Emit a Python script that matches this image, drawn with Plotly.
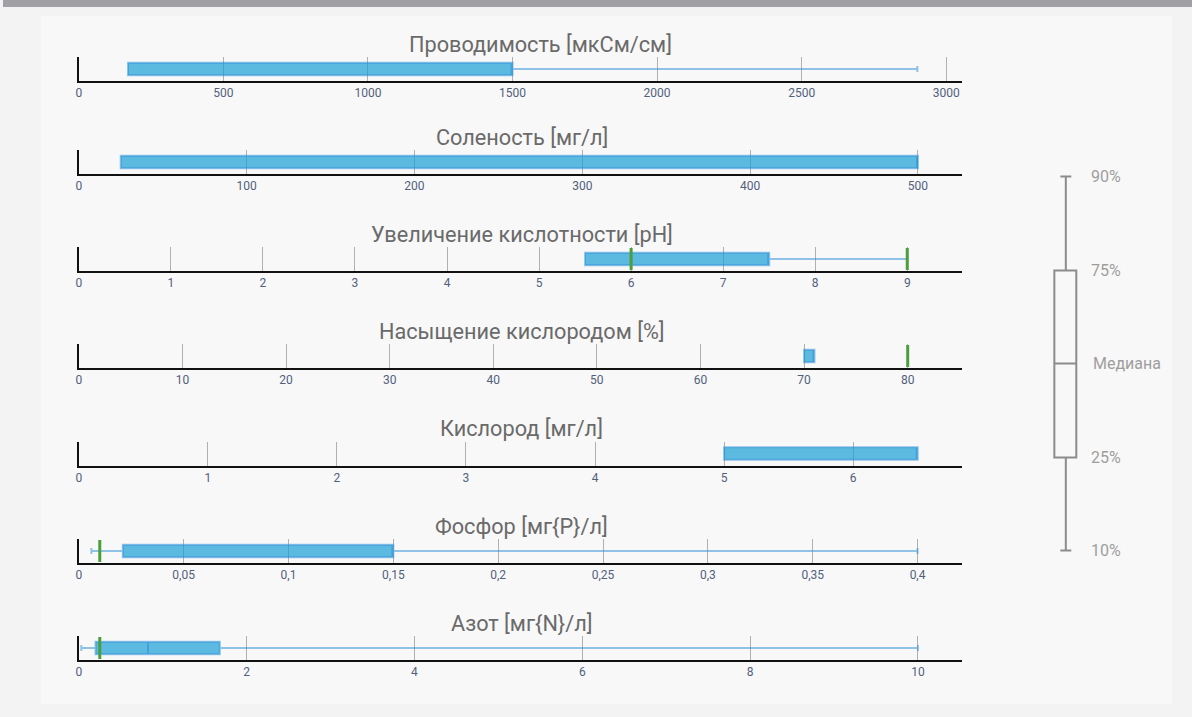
import plotly.graph_objects as go

# ---------------- data ----------------
titles = [
    "Проводимость [мкСм/см]",
    "Соленость [мг/л]",
    "Увеличение кислотности [pH]",
    "Насыщение кислородом [%]",
    "Кислород [мг/л]",
    "Фосфор [мг{P}/л]",
    "Азот [мг{N}/л]",
]
p10 = [170, 25, 5.5, 70, 5.0, 0.006, 0.03]
p25 = [170, 25, 5.5, 70, 5.0, 0.021, 0.2]
median = [1500, 500, 7.5, 71, 6.5, 0.15, 0.825]
p75 = [1500, 500, 7.5, 71, 6.5, 0.15, 1.68]
p90 = [2900, 500, 9.0, 71, 6.5, 0.4, 10.0]
limits = [[], [], [6, 9], [80], [], [0.01], [0.25]]
tick_step = [500, 100, 1, 10, 1, 0.05, 2]
axis_max = [3053, 526, 9.59, 85.2, 6.84, 0.421, 10.52]

legend_labels = ["90%", "75%", "Медиана", "25%", "10%"]

# ---------------- layout constants ----------------
W, H = 1192, 717
X0, X1 = 76, 961
tops = [57, 150, 247, 344, 441.5, 539, 636]
PH = 24
FONT = "Roboto, 'Open Sans', sans-serif"


def fx(p):
    return p / W


def fy(p):
    return 1 - p / H


fig = go.Figure()
layout_axes = {}
annotations = []

for i in range(7):
    sfx = "" if i == 0 else str(i + 1)
    xa, ya = "x" + sfx, "y" + sfx
    fig.add_trace(go.Box(
        orientation="h", y=[0],
        q1=[p25[i]], median=[median[i]], q3=[p75[i]],
        lowerfence=[p10[i]], upperfence=[p90[i]],
        width=0.52, whiskerwidth=0.5,
        fillcolor="rgba(25,160,215,0.70)",
        line=dict(color="rgba(40,140,215,0.5)", width=2),
        xaxis=xa, yaxis=ya, showlegend=False, hoverinfo="skip",
    ))
    for v in limits[i]:
        fig.add_trace(go.Scatter(
            x=[v, v], y=[-0.46, 0.46], mode="lines",
            line=dict(color="#4a9e3c", width=3),
            xaxis=xa, yaxis=ya, showlegend=False, hoverinfo="skip",
        ))
    top = tops[i]
    layout_axes["xaxis" + sfx] = dict(
        domain=[fx(X0), fx(X1)], anchor=ya, range=[0, axis_max[i]],
        tick0=0, dtick=tick_step[i], showline=True, linecolor="#111",
        linewidth=1.5, showgrid=True, gridcolor="#b0b0b0", gridwidth=1,
        zeroline=False, ticks="", fixedrange=True,
        tickfont=dict(family=FONT, size=12, color="#52607c"),
    )
    layout_axes["yaxis" + sfx] = dict(
        domain=[fy(top + PH), fy(top)], anchor=xa, range=[-0.5, 0.5],
        showline=True, linecolor="#111", linewidth=1.5, showgrid=False,
        zeroline=False, showticklabels=False, ticks="", fixedrange=True,
    )
    annotations.append(dict(
        text=titles[i], xref="paper", yref="paper",
        x=fx(520), y=fy(top - 13), xanchor="center", yanchor="middle",
        xshift=19 if i == 0 else 0,
        showarrow=False, font=dict(family=FONT, size=21.7, color="#6a6a6a"),
    ))

# legend key (box-plot explanation)
lc = dict(color="#8c8c8c", width=2)
cx = 1065.5
ytop, yq3, ymed, yq1, ybot = 176.5, 270.5, 363.5, 457.5, 550.5
shapes = [
    dict(type="rect", xref="paper", yref="paper", x0=0, x1=1, y0=fy(7), y1=1,
         fillcolor="#a1a1a5", line=dict(width=0), layer="below"),
    dict(type="rect", xref="paper", yref="paper", x0=fx(38), x1=fx(1172),
         y0=fy(704), y1=fy(16), fillcolor="#f8f8f8", line=dict(width=0),
         layer="below"),
    dict(type="line", xref="paper", yref="paper", x0=fx(cx - 5.5), x1=fx(cx + 5.5),
         y0=fy(ytop), y1=fy(ytop), line=lc),
    dict(type="line", xref="paper", yref="paper", x0=fx(cx), x1=fx(cx),
         y0=fy(ytop), y1=fy(yq3), line=lc),
    dict(type="rect", xref="paper", yref="paper", x0=fx(1054), x1=fx(1076),
         y0=fy(yq1), y1=fy(yq3), line=lc),
    dict(type="line", xref="paper", yref="paper", x0=fx(1054), x1=fx(1076),
         y0=fy(ymed), y1=fy(ymed), line=lc),
    dict(type="line", xref="paper", yref="paper", x0=fx(cx), x1=fx(cx),
         y0=fy(yq1), y1=fy(ybot), line=lc),
    dict(type="line", xref="paper", yref="paper", x0=fx(cx - 5.5), x1=fx(cx + 5.5),
         y0=fy(ybot), y1=fy(ybot), line=lc),
]
for lab, yy, xx in zip(legend_labels, [ytop, yq3, ymed, yq1, ybot],
                       [1089, 1089, 1091, 1089, 1089]):
    annotations.append(dict(
        text=lab, xref="paper", yref="paper", x=fx(xx), y=fy(yy),
        xanchor="left", yanchor="middle", showarrow=False,
        font=dict(family=FONT, size=16, color="#9e9e9e"),
    ))

fig.update_layout(
    width=W, height=H, autosize=False,
    margin=dict(l=0, r=0, t=0, b=0, pad=0),
    paper_bgcolor="#f3f3f3", plot_bgcolor="#ffffff",
    separators=", ",
    font=dict(family=FONT),
    shapes=shapes, annotations=annotations,
    **layout_axes,
)

fig.write_html("out.html", config={"displayModeBar": False},
               post_script="document.body.style.margin='0';")
